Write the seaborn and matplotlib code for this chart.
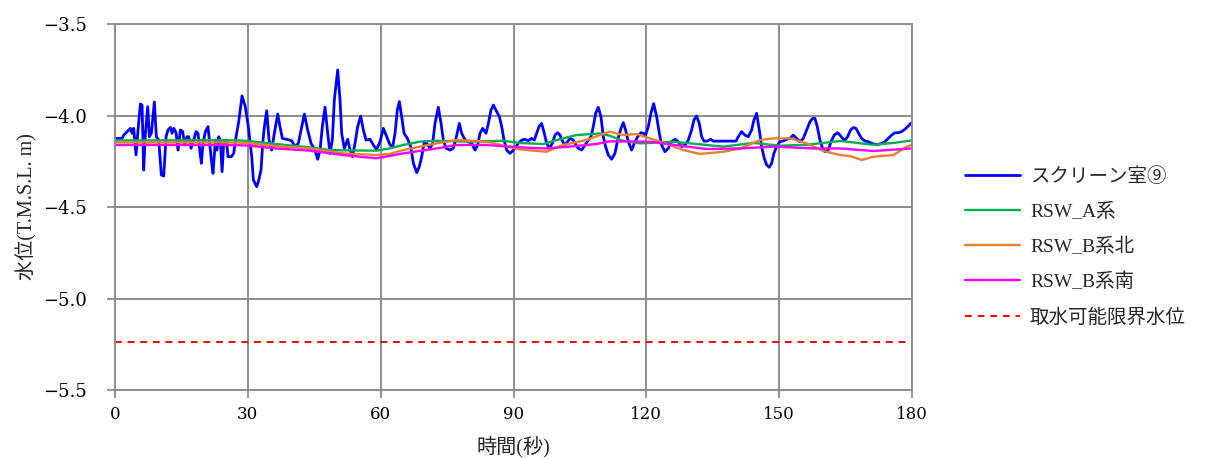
import matplotlib
matplotlib.use("Agg")
import matplotlib.pyplot as plt
import seaborn as sns

# time (s) / water level (T.M.S.L. m)
t_screen = [0, 1.58, 1.96, 3.46, 3.84, 4.21, 4.74, 5.19, 5.72, 6.1, 6.47, 6.85, 7.38, 7.75, 8.2, 8.88,
            9.33, 9.86, 10.46, 10.99, 11.52, 11.97, 12.5, 12.87, 13.25, 13.78, 14.23, 14.76, 15.28,
            15.73, 16.26, 16.64, 17.16, 17.77, 18.29, 18.74, 19.12, 19.5, 19.87, 20.4, 21.0, 21.3,
            21.75, 22.13, 22.66, 23.03, 23.41, 23.79, 24.17, 24.54, 25.14, 25.52, 26.27, 26.8, 27.33,
            27.93, 28.68, 29.4, 30.11, 30.87, 31.24, 31.99, 32.37, 32.97, 33.35, 33.73, 34.25, 34.78,
            35.38, 35.98, 36.74, 37.26, 37.79, 38.77, 39.9, 40.65, 41.4, 42.16, 42.76, 43.51, 44.27,
            45.17, 45.77, 46.3, 46.82, 47.43, 48.03, 48.56, 49.08, 49.53, 50.29, 50.81, 51.19, 51.79,
            52.55, 53.07, 53.6, 54.2, 54.8, 55.48, 56.08, 56.69, 57.59, 58.34, 59.09, 59.85, 60.6,
            61.36, 62.11, 62.71, 63.24, 63.76, 64.22, 64.74, 65.27, 66.02, 66.78, 67.38, 68.13, 68.73,
            69.26, 69.86, 70.39, 71.14, 71.74, 72.27, 73.02, 73.63, 74.15, 74.76, 75.66, 76.41, 77.01,
            77.77, 78.29, 79.05, 79.8, 80.55, 81.3, 81.91, 82.43, 83.04, 83.79, 84.32, 84.92, 85.45,
            86.2, 86.8, 87.33, 87.85, 88.46, 89.21, 89.96, 90.71, 91.08, 91.84, 92.59, 93.34, 94.09,
            94.7, 95.22, 95.75, 96.35, 96.95, 97.48, 98.08, 98.76, 99.36, 99.97, 100.49, 101.1, 101.62,
            102.22, 102.75, 103.5, 104.1, 104.63, 105.39, 106.14, 106.89, 107.5, 108.02, 108.55,
            109.15, 109.75, 110.28, 110.8, 111.41, 112.16, 112.91, 113.52, 114.27, 114.8, 115.32,
            115.93, 116.68, 117.28, 118.03, 118.79, 119.31, 119.84, 120.44, 121.04, 121.65, 122.33,
            122.93, 123.45, 124.21, 124.96, 125.71, 126.47, 127.22, 127.97, 128.72, 129.48, 130.23,
            130.76, 131.36, 131.96, 132.49, 133.02, 133.77, 134.52, 135.12, 135.88, 137.0, 138.13,
            139.26, 140.24, 140.77, 141.52, 142.27, 143.03, 143.78, 144.31, 144.91, 145.51, 146.04,
            146.64, 147.17, 147.77, 148.3, 148.82, 149.43, 150.18, 150.93, 151.69, 152.44, 153.19,
            153.94, 154.7, 155.45, 156.2, 156.96, 157.56, 158.08, 158.61, 159.21, 159.82, 160.34,
            161.1, 161.7, 162.45, 163.2, 163.73, 164.33, 164.86, 165.46, 166.14, 166.74, 167.34,
            167.95, 168.62, 169.38, 170.13, 170.88, 171.64, 172.39, 173.14, 173.89, 174.65, 175.4,
            176.15, 176.91, 177.66, 178.41, 179.16, 179.76, 180]
v_screen = [-4.125, -4.125, -4.107, -4.070, -4.097, -4.070, -4.216, -4.079, -3.937, -3.943, -4.298,
            -4.097, -3.952, -4.116, -4.097, -3.926, -4.116, -4.134, -4.325, -4.331, -4.116, -4.079,
            -4.065, -4.097, -4.070, -4.094, -4.189, -4.079, -4.088, -4.161, -4.116, -4.116, -4.179,
            -4.134, -4.088, -4.097, -4.189, -4.261, -4.152, -4.088, -4.061, -4.134, -4.243, -4.316,
            -4.134, -4.189, -4.116, -4.134, -4.307, -4.152, -4.134, -4.225, -4.225, -4.207, -4.116,
            -4.034, -3.893, -3.950, -4.061, -4.225, -4.352, -4.389, -4.362, -4.298, -4.152, -4.061,
            -3.974, -4.134, -4.189, -4.097, -3.992, -4.061, -4.125, -4.130, -4.138, -4.170, -4.152,
            -4.061, -3.992, -4.079, -4.152, -4.189, -4.239, -4.189, -4.061, -3.955, -4.097, -4.207,
            -4.134, -3.915, -3.751, -3.915, -4.097, -4.180, -4.130, -4.189, -4.225, -4.152, -4.061,
            -4.003, -4.079, -4.134, -4.130, -4.161, -4.185, -4.143, -4.070, -4.116, -4.161, -4.170,
            -4.097, -3.970, -3.924, -4.006, -4.097, -4.125, -4.170, -4.261, -4.312, -4.279, -4.225,
            -4.143, -4.152, -4.179, -4.152, -4.043, -3.955, -4.043, -4.134, -4.179, -4.189, -4.179,
            -4.125, -4.043, -4.097, -4.134, -4.143, -4.152, -4.189, -4.161, -4.097, -4.070, -4.097,
            -4.043, -3.970, -3.943, -3.979, -4.006, -4.061, -4.134, -4.189, -4.207, -4.189, -4.165,
            -4.152, -4.134, -4.130, -4.138, -4.125, -4.134, -4.097, -4.061, -4.043, -4.097, -4.152,
            -4.179, -4.152, -4.107, -4.094, -4.107, -4.143, -4.161, -4.143, -4.125, -4.134, -4.161,
            -4.179, -4.189, -4.161, -4.134, -4.116, -4.061, -3.988, -3.955, -4.006, -4.116, -4.170,
            -4.216, -4.239, -4.207, -4.134, -4.070, -4.039, -4.079, -4.143, -4.189, -4.152, -4.116,
            -4.094, -4.097, -4.107, -4.061, -3.988, -3.935, -4.006, -4.097, -4.161, -4.198, -4.179,
            -4.143, -4.130, -4.143, -4.170, -4.161, -4.134, -4.079, -4.024, -4.003, -4.043, -4.116,
            -4.140, -4.140, -4.130, -4.140, -4.140, -4.140, -4.140, -4.140, -4.140, -4.116, -4.088,
            -4.107, -4.116, -4.079, -4.024, -3.988, -4.079, -4.170, -4.234, -4.270, -4.283, -4.261,
            -4.207, -4.170, -4.143, -4.139, -4.130, -4.125, -4.107, -4.125, -4.143, -4.125, -4.079,
            -4.034, -4.016, -4.016, -4.061, -4.134, -4.179, -4.198, -4.189, -4.143, -4.107, -4.094,
            -4.107, -4.125, -4.134, -4.116, -4.079, -4.066, -4.070, -4.097, -4.125, -4.139, -4.143,
            -4.152, -4.158, -4.158, -4.152, -4.143, -4.125, -4.107, -4.094, -4.094, -4.088, -4.075,
            -4.057, -4.043, -4.045]

t_a = [0, 10, 20, 28, 30.4, 36, 44, 48.5, 54, 59, 62, 65.1, 68.8, 72.6, 80.1, 87.7, 91.4, 96.7,
       99.7, 104.2, 109.5, 111.7, 114.7, 118.6, 120.7, 126.1, 131, 137.4, 144.2, 150.2, 156.2,
       163.8, 171.3, 175.8, 180]
v_a = [-4.136, -4.136, -4.135, -4.136, -4.140, -4.155, -4.174, -4.189, -4.191, -4.192, -4.180,
       -4.161, -4.143, -4.138, -4.143, -4.138, -4.150, -4.156, -4.134, -4.107, -4.098, -4.110,
       -4.138, -4.152, -4.150, -4.143, -4.155, -4.170, -4.150, -4.165, -4.160, -4.139, -4.160,
       -4.150, -4.136]

t_bn = [0, 10, 20, 28, 30.4, 36.4, 44, 51.5, 59, 62, 65.1, 72.6, 77.1, 83.9, 91.4, 97.4, 101.2,
        106.4, 109.5, 111.7, 114.7, 117.8, 120.8, 123.1, 128.4, 132.1, 137.4, 141.2, 145.7, 148.7,
        152.5, 156.2, 160, 163.8, 166, 168.7, 171.3, 175.8, 178.8, 180]
v_bn = [-4.147, -4.147, -4.147, -4.148, -4.152, -4.167, -4.180, -4.207, -4.216, -4.210, -4.189,
        -4.152, -4.134, -4.143, -4.185, -4.198, -4.161, -4.134, -4.107, -4.088, -4.107, -4.101,
        -4.125, -4.143, -4.189, -4.210, -4.198, -4.180, -4.134, -4.125, -4.125, -4.152, -4.194,
        -4.216, -4.222, -4.243, -4.225, -4.216, -4.170, -4.160]

t_bs = [0, 10, 20, 28, 30.4, 36.4, 44, 51.5, 59, 65.1, 72.6, 77.1, 83.9, 91.4, 97.4, 102.7, 108.7,
        111.7, 120.8, 127.6, 133.6, 141.2, 148.7, 157.8, 163.8, 171.3, 180]
v_bs = [-4.161, -4.161, -4.161, -4.162, -4.165, -4.180, -4.192, -4.216, -4.234, -4.207, -4.180,
        -4.161, -4.161, -4.174, -4.180, -4.170, -4.156, -4.141, -4.143, -4.165, -4.183, -4.180,
        -4.170, -4.180, -4.180, -4.194, -4.180]

t_limit = [0, 180]
v_limit = [-5.24, -5.24]

labels = ['スクリーン室⑨', 'RSW_A系', 'RSW_B系北', 'RSW_B系南', '取水可能限界水位']
y_ticks = [-5.5, -5.0, -4.5, -4.0, -3.5]

sns.set_style('white')
plt.rcParams['font.family'] = ['Liberation Serif', 'Noto Sans CJK JP']
plt.rcParams['axes.unicode_minus'] = True

fig = plt.figure(figsize=(12.06, 4.59), dpi=100)
ax = fig.add_axes([0.0954, 0.1503, 0.6608, 0.7974])

grey = '#8c8c8c'
sns.lineplot(x=t_screen, y=v_screen, color='#0000ff', linewidth=2.0, label=labels[0], ax=ax)
sns.lineplot(x=t_a, y=v_a, color='#00b050', linewidth=1.7, label=labels[1], ax=ax)
sns.lineplot(x=t_bn, y=v_bn, color='#ed7d31', linewidth=1.7, label=labels[2], ax=ax)
sns.lineplot(x=t_bs, y=v_bs, color='#ff00ff', linewidth=1.7, label=labels[3], ax=ax)
sns.lineplot(x=t_limit, y=v_limit, color='#ff0000', linewidth=1.4, label=labels[4], ax=ax)
ax.lines[-1].set_dashes((3.5, 3))

ax.set_xlim(0, 180)
ax.set_ylim(-5.5, -3.5)
ax.set_xticks(range(0, 181, 30))
ax.set_yticks(y_ticks)
ax.set_yticklabels([f'{v:.1f}'.replace('-', '\u2212') for v in y_ticks])
ax.grid(True, color=grey, linewidth=1.4)
ax.set_axisbelow(True)
for s in ax.spines.values():
    s.set_color(grey)
    s.set_linewidth(1.4)
ax.tick_params(axis='both', direction='out', length=5.5, width=1.3, color=grey,
               labelcolor='black', left=True, bottom=True)
ax.tick_params(axis='y', pad=15, labelsize=13)
ax.tick_params(axis='x', pad=6, labelsize=12)
for lab in ax.get_xticklabels() + ax.get_yticklabels():
    lab.set_fontfamily(['DejaVu Serif', 'Noto Sans CJK JP'])
ax.set_xlabel('時間(秒)', fontsize=14.5, labelpad=10)
ax.set_ylabel('水位(T.M.S.L. m)', fontsize=14.5, labelpad=4)

ax.get_legend().remove()
handles, _ = ax.get_legend_handles_labels()
fig.legend(handles, labels, loc='center left', bbox_to_anchor=(0.800, 0.462),
           frameon=False, fontsize=14, handlelength=2.85, handletextpad=0.5,
           labelspacing=0.86, borderaxespad=0, borderpad=0)

fig.savefig('out.png', dpi=100)
